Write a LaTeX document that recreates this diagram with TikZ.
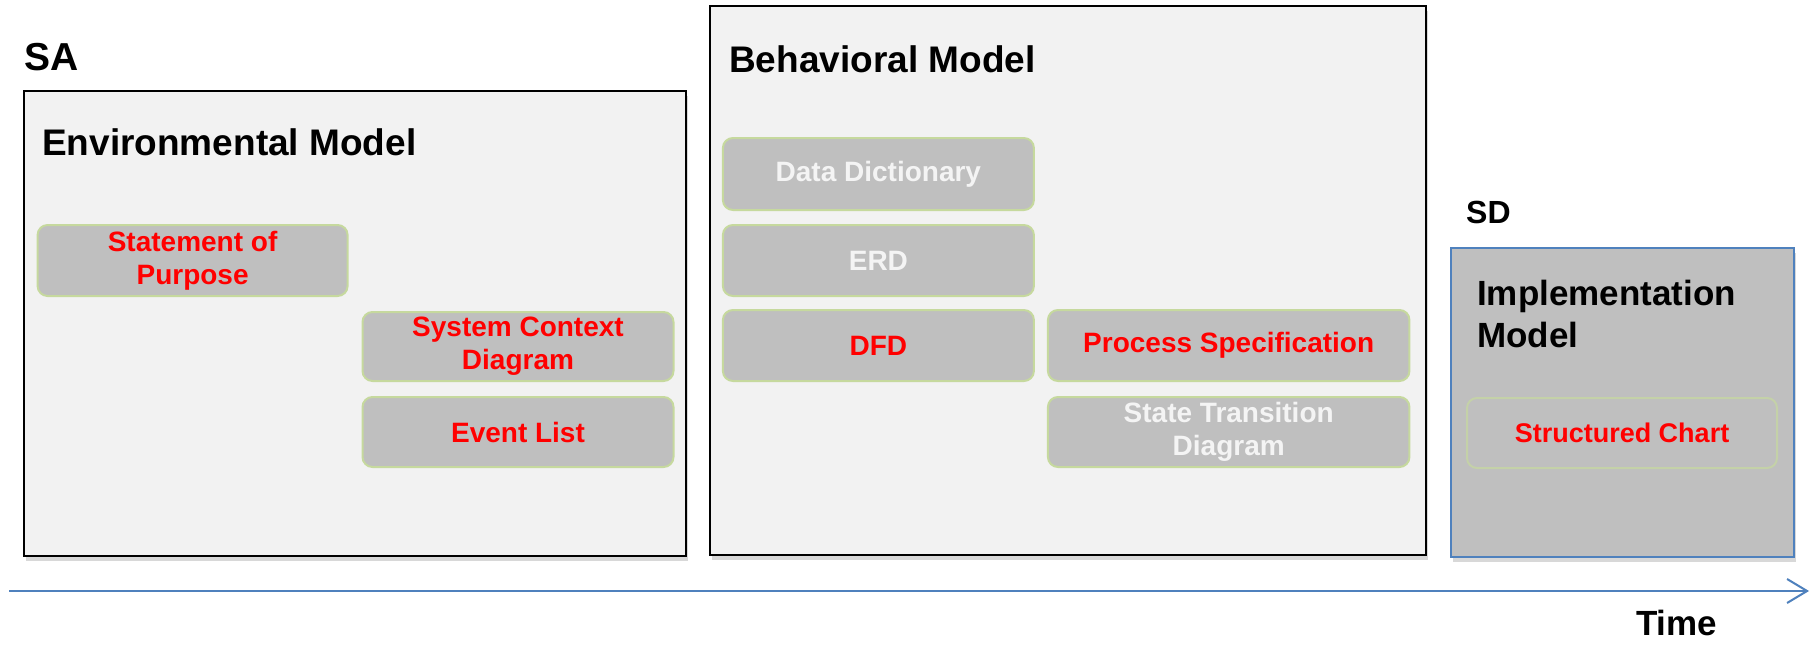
\documentclass[tikz,border=0pt]{standalone}
\usepackage{fontspec}
\setmainfont{Liberation Sans}
\usetikzlibrary{arrows.meta,shadows}
\definecolor{panelfill}{HTML}{F2F2F2}
\definecolor{itemfill}{HTML}{BFBFBF}
\definecolor{itemline}{HTML}{C6D99E}
\definecolor{sdblue}{HTML}{4F81BD}
\definecolor{itemred}{HTML}{FF0000}
\definecolor{itemwhite}{HTML}{F4F4F4}
\begin{document}
\begin{tikzpicture}[x=1pt,y=-1pt,
  panel/.style={draw=black, line width=2pt, fill=panelfill, inner sep=0pt,
    drop shadow={shadow xshift=2pt, shadow yshift=-5pt, opacity=0.3}},
  sdpanel/.style={draw=sdblue, line width=2.5pt, fill=itemfill, inner sep=0pt,
    drop shadow={shadow xshift=2pt, shadow yshift=-5pt, opacity=0.3}},
  item/.style={draw=itemline, line width=2pt, fill=itemfill, rounded corners=10pt,
    inner sep=0pt, align=center, font=\bfseries\fontsize{28}{33}\selectfont},
  red item/.style={item, text=itemred},
  white item/.style={item, text=itemwhite},
  title/.style={anchor=base west, inner sep=0pt, font=\bfseries\fontsize{37}{44}\selectfont},
  sdtitle/.style={anchor=base west, inner sep=0pt, font=\bfseries\fontsize{35}{42}\selectfont},
  axis/.style={draw=sdblue, line width=2.5pt, -{Straight Barb[length=20pt,width=24pt,line width=2pt]}}
]
\useasboundingbox[fill=white] (0,0) rectangle (1818,645);

% panels
\node[panel, minimum width=662pt, minimum height=465pt] (env) at (355,323.5) {};
\node[panel, minimum width=716pt, minimum height=549pt] (beh) at (1068,280.5) {};
\node[sdpanel, minimum width=343pt, minimum height=309pt] (sd) at (1622.5,402.5) {};

% titles
\node[title, font=\bfseries\fontsize{39}{46}\selectfont] (satitle) at (24,70) {SA};
\node[title] (envtitle) at (42,155) {Environmental Model};
\node[title] (behtitle) at (729,72) {Behavioral Model};
\node[sdtitle, font=\bfseries\fontsize{32}{38}\selectfont] (sdtitle) at (1466,223) {SD};
\node[sdtitle] (impl1) at (1477,305) {Implementation};
\node[sdtitle] (impl2) at (1477,347) {Model};

% environmental model items
\node[red item, minimum width=310pt, minimum height=71pt] (sop) at (192.6,260.5) {Statement of\\Purpose};
\node[red item, minimum width=311pt, minimum height=69pt] (scd) at (518,346.5) {System Context\\Diagram};
\node[red item, minimum width=311pt, minimum height=70pt] (evl) at (518,432) {Event List};

% behavioral model items
\node[white item, minimum width=311pt, minimum height=72pt] (dd) at (878.4,174) {Data Dictionary};
\node[white item, minimum width=311pt, minimum height=71pt] (erd) at (878.4,260.5) {ERD};
\node[red item, minimum width=311pt, minimum height=71pt] (dfd) at (878.4,345.5) {DFD};
\node[red item, minimum width=361.5pt, minimum height=71pt] (ps) at (1228.7,345.5) {Process Specification};
\node[white item, minimum width=361.5pt, minimum height=70pt] (std) at (1228.7,432) {State Transition\\Diagram};

% implementation model item
\node[item, fill=none, draw=itemline!70!itemfill, text=itemred,
  font=\bfseries\fontsize{27}{32}\selectfont,
  minimum width=310pt, minimum height=70pt] (sc) at (1622,433) {Structured Chart};

% time axis
\coordinate (tstart) at (9,591);
\coordinate (tend) at (1809,591);
\draw[axis] (tstart) -- (tend);
\node[sdtitle] (time) at (1636,635) {Time};
\end{tikzpicture}
\end{document}
